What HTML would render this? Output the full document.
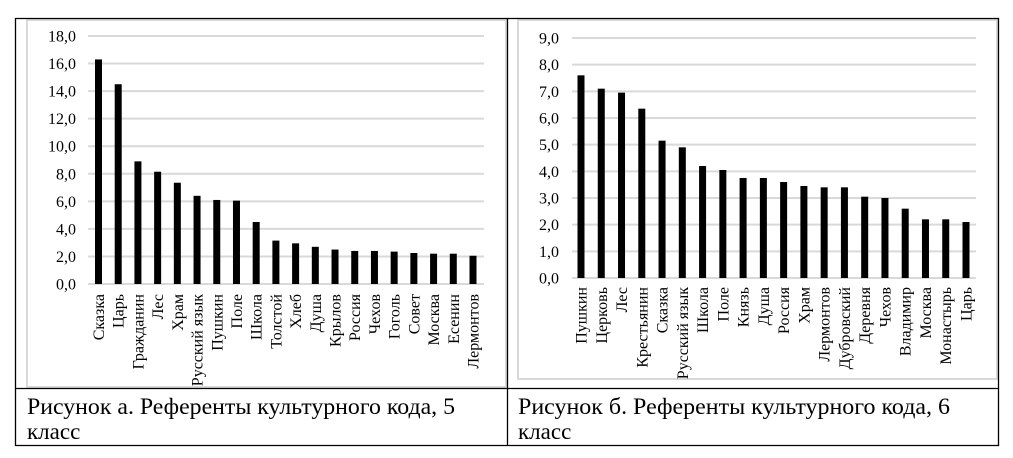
<!DOCTYPE html>
<html><head><meta charset="utf-8"><style>
html,body{margin:0;padding:0;background:#fff;width:1013px;height:458px;overflow:hidden}
svg{display:block}
text{font-family:"Liberation Serif","DejaVu Serif",serif;fill:#000}
</style></head><body>
<svg width="1013" height="458" viewBox="0 0 1013 458" xmlns="http://www.w3.org/2000/svg">
<rect x="27" y="20" width="479" height="367" fill="none" stroke="#d9d9d9" stroke-width="2"/>
<rect x="518" y="20" width="479" height="359" fill="none" stroke="#d9d9d9" stroke-width="2"/>
<g stroke="#000" stroke-width="1.3">
<line x1="15" y1="18.5" x2="999" y2="18.5"/>
<line x1="15" y1="388.5" x2="999" y2="388.5"/>
<line x1="15" y1="445.5" x2="999" y2="445.5"/>
<line x1="15.5" y1="18" x2="15.5" y2="446"/>
<line x1="507.5" y1="18" x2="507.5" y2="446"/>
<line x1="998.5" y1="18" x2="998.5" y2="446"/>
</g>
<g id="L"></g>
<g id="R"></g>
<text x="27" y="414" font-size="23" textLength="428" lengthAdjust="spacingAndGlyphs">Рисунок а. Референты культурного кода, 5</text>
<text x="27" y="439" font-size="23">класс</text>
<text x="518" y="414" font-size="23" textLength="432" lengthAdjust="spacingAndGlyphs">Рисунок б. Референты культурного кода, 6</text>
<text x="518" y="439" font-size="23">класс</text>
</svg>
<script>
function chart(id,x0,x1,yTop,yBot,max,step,vals,labs,c0,c1,lx,ly){
 var g=document.getElementById(id),s='',n=max/step;
 for(var i=0;i<=n;i++){var y=yBot-(yBot-yTop)*i/n;
  s+='<line x1="'+x0+'" x2="'+x1+'" y1="'+y+'" y2="'+y+'" stroke="#d9d9d9" stroke-width="2"/>';
  s+='<text x="'+lx+'" y="'+(y+5.5)+'" font-size="16" text-anchor="end">'+(i*step).toFixed(1).replace('.',',')+'</text>';}
 var sp=(c1-c0)/(vals.length-1);
 for(var j=0;j<vals.length;j++){var cx=c0+sp*j,h=(yBot-yTop)*vals[j]/max;
  s+='<rect x="'+(cx-3.5)+'" y="'+(yBot-h)+'" width="7" height="'+h+'" fill="#000"/>';
  s+='<text transform="translate('+(cx+5.5)+','+ly+') rotate(-90)" font-size="16" text-anchor="end">'+labs[j]+'</text>';}
 g.innerHTML=s;
}
chart('L',88,484,36,284,18,2,[16.3,14.5,8.9,8.15,7.35,6.4,6.1,6.05,4.5,3.15,2.95,2.7,2.5,2.4,2.4,2.35,2.25,2.2,2.2,2.05],
['Сказка','Царь','Гражданин','Лес','Храм','Русский язык','Пушкин','Поле','Школа','Толстой','Хлеб','Душа','Крылов','Россия','Чехов','Гоголь','Совет','Москва','Есенин','Лермонтов'],98.5,473,76,294);
chart('R',572,976,38,278,9,1,[7.6,7.1,6.95,6.35,5.15,4.9,4.2,4.05,3.75,3.75,3.6,3.45,3.4,3.4,3.05,3.0,2.6,2.2,2.2,2.1],
['Пушкин','Церковь','Лес','Крестьянин','Сказка','Русский язык','Школа','Поле','Князь','Душа','Россия','Храм','Лермонтов','Дубровский','Деревня','Чехов','Владимир','Москва','Монастырь','Царь'],581,966,559,287);
</script>
</body></html>
